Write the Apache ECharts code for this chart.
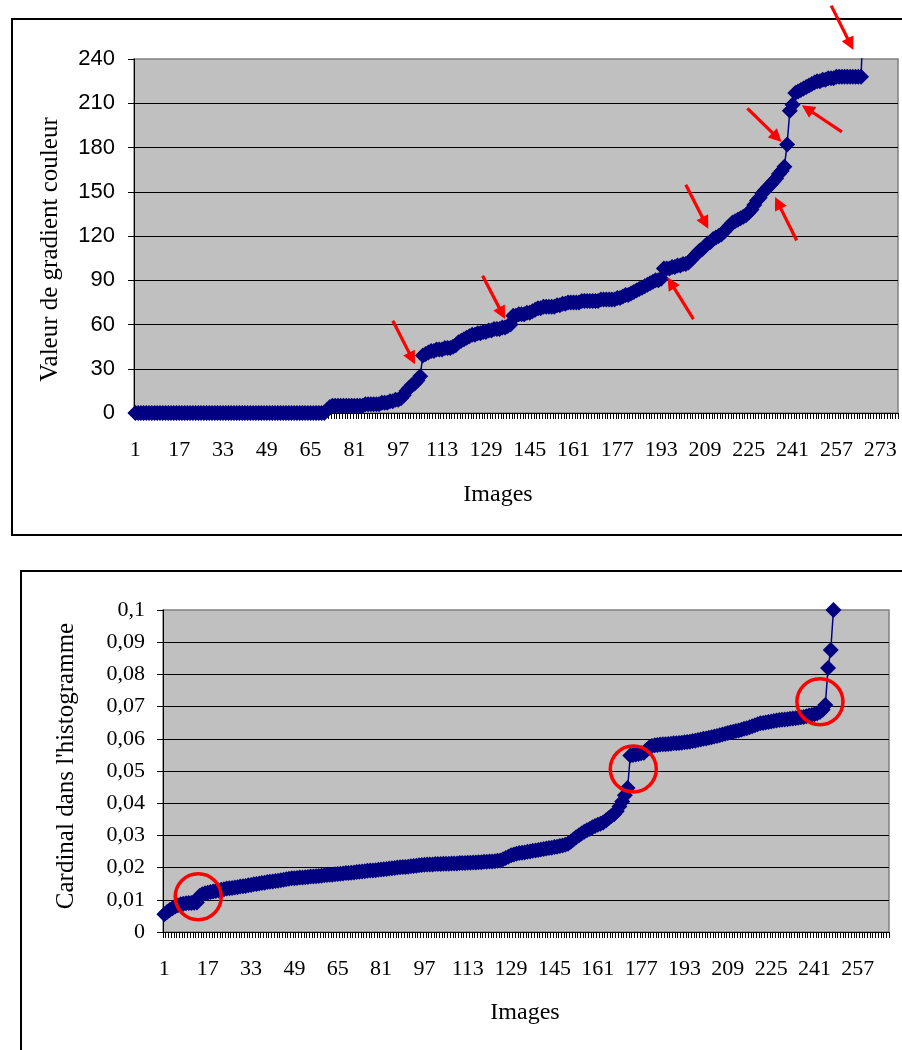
<!DOCTYPE html>
<html>
<head>
<meta charset="utf-8">
<script src="https://cdn.jsdelivr.net/npm/echarts@6.0.0/dist/echarts.min.js"></script>
<style>
html,body{margin:0;padding:0;background:#fff;}
#c{width:902px;height:1050px;}
</style>
</head>
<body>
<div id="c"></div>
<script>
// ---------------- Chart 1 : colour gradient value per image ----------------
const gradientCategoryCount = 279;
const gradientCategories = [];
for (let k = 1; k <= gradientCategoryCount; k++) gradientCategories.push(String(k));

const gradientValues = [
  0,0,0,0,0,0,0,0,0,0,
  0,0,0,0,0,0,0,0,0,0,
  0,0,0,0,0,0,0,0,0,0,
  0,0,0,0,0,0,0,0,0,0,
  0,0,0,0,0,0,0,0,0,0,
  0,0,0,0,0,0,0,0,0,0,
  0,0,0,0,0,0,0,0,0,0,
  2,4,5,5,5,5,5,5,5,5,5,5,5,5,6,6,6,6,
  6,6,7,7,7,8,8,9,9,10,12,15,17,19,20,22,25,
  39,40,41,42,42,43,43,43,44,44,44,45,46,48,49,50,51,52,53,53,54,54,55,55,56,56,57,57,57,58,58,59,60,
  66,66,67,67,67,68,68,69,70,71,
  71,72,72,72,72,72,73,73,74,74,
  75,75,75,75,75,76,76,76,76,76,
  76,76,77,77,77,77,77,77,78,78,
  79,80,80,81,82,83,84,85,86,87,
  88,89,90,90,91,
  98,98,98,99,99,100,100,101,101,102,
  104,106,108,110,111,113,115,116,118,119,
  120,121,123,125,127,129,130,131,132,133,
  134,136,138,141,144,146,149,151,153,155,
  157,159,162,164,167,
  182,205,209,217,218,219,220,221,222,223,
  224,225,225,226,226,227,227,227,228,228,
  228,228,228,228,228,228,228,228,
  275
];
const gradientTicks = [0, 30, 60, 90, 120, 150, 180, 210, 240];

// red arrows: [tail category index, tail value, tip category index, tip value]
const gradientArrows = [
  [94.0, 62.6, 102.1, 33.1],
  [126.8, 93.1, 135.0, 63.7],
  [203.8, 63.7, 194.3, 92.0],
  [201.0, 154.8, 209.2, 124.9],
  [241.5, 116.9, 233.6, 146.4],
  [223.5, 206.5, 236.0, 183.8],
  [258.0, 190.6, 243.4, 208.7],
  [254.1, 276.2, 262.2, 246.1]
];

// ---------------- Chart 2 : cardinal in the histogram per image ----------------
const cardinalCategoryCount = 268;
const cardinalCategories = [];
for (let k = 1; k <= cardinalCategoryCount; k++) cardinalCategories.push(String(k));

const cardinalValues = [
  0.0055,0.0062,0.0068,0.0074,0.0079,0.0083,0.0086,0.0088,0.0089,0.0090,0.0090,0.0091,0.0092,
  0.0112,0.0117,0.0120,0.0122,0.0124,0.0126,0.0127,0.0129,0.0131,0.0133,0.0135,
  0.0136,0.0137,0.0138,0.0139,0.0141,0.0142,0.0143,0.0145,0.0146,0.0148,0.0149,0.0151,
  0.0152,0.0153,0.0155,0.0156,0.0157,0.0158,0.0159,0.0161,0.0162,0.0164,0.0165,0.0167,
  0.0167,0.0168,0.0169,0.0169,0.0170,0.0171,0.0172,0.0172,0.0173,0.0174,0.0175,0.0176,0.0177,
  0.0178,0.0178,0.0179,0.0180,0.0181,0.0182,0.0183,0.0183,0.0184,0.0185,0.0186,0.0187,
  0.0188,0.0189,0.0190,0.0191,0.0191,0.0192,0.0193,0.0194,0.0195,0.0196,0.0197,0.0198,
  0.0199,0.0200,0.0201,0.0202,0.0202,0.0203,0.0204,0.0205,0.0206,0.0207,0.0208,0.0209,0.0210,
  0.0210,0.0210,0.0211,0.0211,0.0211,0.0212,0.0212,0.0212,0.0213,0.0213,0.0213,0.0214,0.0214,
  0.0214,0.0215,0.0215,0.0216,0.0216,0.0217,0.0217,0.0218,0.0218,0.0219,0.0219,0.0220,0.0221,
  0.0222,0.0226,0.0230,0.0234,0.0238,0.0241,0.0243,
  0.0245,0.0246,0.0247,0.0249,0.0250,0.0252,0.0253,0.0255,0.0256,0.0258,
  0.0259,0.0261,0.0262,0.0264,0.0265,0.0267,0.0269,0.0271,0.0274,
  0.0280,0.0287,0.0294,0.0300,0.0306,0.0311,0.0316,0.0320,0.0325,0.0329,0.0333,
  0.0336,0.0340,0.0346,0.0353,0.0360,0.0366,0.0375,0.0390,0.0405,0.0425,0.0447,
  0.0548,0.0550,0.0551,0.0553,0.0555,0.0557,
  0.0565,0.0573,0.0578,
  0.0580,0.0581,0.0582,0.0583,0.0583,0.0584,0.0585,0.0586,0.0586,
  0.0587,0.0588,0.0589,0.0590,0.0591,0.0593,0.0594,0.0596,0.0598,0.0600,
  0.0601,0.0603,0.0605,0.0607,0.0609,0.0611,0.0613,0.0616,
  0.0618,0.0620,0.0622,0.0624,0.0626,0.0628,0.0631,0.0633,0.0636,0.0639,0.0642,0.0645,0.0648,
  0.0649,0.0651,0.0652,0.0654,0.0655,0.0657,0.0658,0.0659,0.0660,0.0661,0.0662,0.0663,
  0.0664,0.0665,0.0667,0.0668,0.0670,0.0672,0.0674,0.0676,0.0679,0.0683,0.0690,0.0705,
  0.0820,0.0876,0.1000
];
const cardinalTickLabels = ['0','0,01','0,02','0,03','0,04','0,05','0,06','0,07','0,08','0,09','0,1'];

// red circles: [category index, value]
const cardinalCircles = [
  [12.5, 0.01096],
  [173.1, 0.0506],
  [242.0, 0.0715]
];

// ---------------- rendering ----------------
const SERIF = '"Liberation Serif", "Times New Roman", Times, serif';
const SANS = '"Liberation Sans", Arial, Helvetica, sans-serif';
const NAVY = '#000080';
const RED = '#FF0000';

const chart = echarts.init(document.getElementById('c'), null, {renderer: 'canvas', width: 902, height: 1050});

function catAxis(gridIndex, data, fontSize, margin) {
  return {
    gridIndex: gridIndex,
    type: 'category',
    data: data,
    boundaryGap: true,
    axisLine: {show: true, onZero: false, lineStyle: {color: '#000', width: 1}},
    axisTick: {show: true, interval: 0, alignWithLabel: false, inside: false, length: 6, lineStyle: {color: '#000', width: 1}},
    axisLabel: {show: true, interval: 15, margin: margin, fontFamily: SERIF, fontSize: fontSize, color: '#000', hideOverlap: false},
    splitLine: {show: false}
  };
}

const option = {
  animation: false,
  backgroundColor: '#fff',
  grid: [
    {left: 134, top: 59, width: 764, height: 354, show: true, backgroundColor: '#C0C0C0',
     borderColor: '#808080', borderWidth: 1.5, containLabel: false, outerBoundsMode: 'none'},
    {left: 163, top: 610, width: 726, height: 322, show: true, backgroundColor: '#C0C0C0',
     borderColor: '#808080', borderWidth: 1.5, containLabel: false, outerBoundsMode: 'none'}
  ],
  xAxis: [
    catAxis(0, gradientCategories, 22, 26),
    catAxis(1, cardinalCategories, 22, 26)
  ],
  yAxis: [
    {
      gridIndex: 0, type: 'value',
      min: gradientTicks[0], max: gradientTicks[gradientTicks.length - 1],
      interval: gradientTicks[1] - gradientTicks[0],
      axisLine: {show: true, onZero: false, lineStyle: {color: '#000', width: 1}},
      axisTick: {show: true, length: 6, lineStyle: {color: '#000', width: 1}},
      axisLabel: {show: true, margin: 19, fontFamily: SANS, fontSize: 22, color: '#000'},
      splitLine: {show: true, showMinLine: false, showMaxLine: false, lineStyle: {color: '#000', width: 1}}
    },
    {
      gridIndex: 1, type: 'value', min: 0, max: 0.1, interval: 0.01,
      axisLine: {show: true, onZero: false, lineStyle: {color: '#000', width: 1}},
      axisTick: {show: true, length: 6, lineStyle: {color: '#000', width: 1}},
      axisLabel: {
        show: true, margin: 18, fontFamily: SERIF, fontSize: 22, color: '#000',
        formatter: function (v) { return cardinalTickLabels[Math.round(v * 100)]; }
      },
      splitLine: {show: true, showMinLine: false, showMaxLine: false, lineStyle: {color: '#000', width: 1}}
    }
  ],
  series: [
    {
      type: 'line', xAxisIndex: 0, yAxisIndex: 0, data: gradientValues,
      symbol: 'diamond', symbolSize: 16, showAllSymbol: true, clip: true,
      itemStyle: {color: NAVY, borderWidth: 0},
      lineStyle: {color: NAVY, width: 1.5},
      emphasis: {disabled: true}, silent: true
    },
    {
      type: 'line', xAxisIndex: 1, yAxisIndex: 1, data: cardinalValues,
      symbol: 'diamond', symbolSize: 16, showAllSymbol: true, clip: true,
      itemStyle: {color: NAVY, borderWidth: 0},
      lineStyle: {color: NAVY, width: 1.5},
      emphasis: {disabled: true}, silent: true
    }
  ]
};
chart.setOption(option);

// convert a (possibly fractional) category index + value to pixels through the axes
function toPx(axisIdx, catIdx, value) {
  const k0 = Math.floor(catIdx);
  const p0 = chart.convertToPixel({xAxisIndex: axisIdx}, k0);
  const p1 = chart.convertToPixel({xAxisIndex: axisIdx}, k0 + 1);
  const x = p0 + (catIdx - k0) * (p1 - p0);
  const y = chart.convertToPixel({yAxisIndex: axisIdx}, value);
  return [x, y];
}

function arrowElements(a, b) {
  const dx = b[0] - a[0], dy = b[1] - a[1];
  const L = Math.hypot(dx, dy), ux = dx / L, uy = dy / L;
  const hl = 13, hw = 6.5;
  const bx = b[0] - ux * hl, by = b[1] - uy * hl;
  return [
    {type: 'line', silent: true, z: 100,
     shape: {x1: a[0], y1: a[1], x2: bx + ux * 2, y2: by + uy * 2},
     style: {stroke: RED, lineWidth: 3.2}},
    {type: 'polygon', silent: true, z: 100,
     shape: {points: [[b[0], b[1]], [bx - uy * hw, by + ux * hw], [bx + uy * hw, by - ux * hw]]},
     style: {fill: RED}}
  ];
}

const graphics = [
  {type: 'rect', silent: true, z: 50, shape: {x: 12, y: 19, width: 900, height: 516},
   style: {fill: 'none', stroke: '#000', lineWidth: 2}},
  {type: 'rect', silent: true, z: 50, shape: {x: 21, y: 571, width: 900, height: 500},
   style: {fill: 'none', stroke: '#000', lineWidth: 2}},
  {type: 'text', silent: true, x: 50.5, y: 249.5, rotation: Math.PI / 2,
   style: {text: 'Valeur de gradient couleur', fontFamily: SERIF, fontSize: 25, fill: '#000', align: 'center', verticalAlign: 'middle'}},
  {type: 'text', silent: true, x: 498, y: 495,
   style: {text: 'Images', fontFamily: SERIF, fontSize: 24, fill: '#000', align: 'center', verticalAlign: 'middle'}},
  {type: 'text', silent: true, x: 66, y: 766, rotation: Math.PI / 2,
   style: {text: "Cardinal dans l'histogramme", fontFamily: SERIF, fontSize: 25, fill: '#000', align: 'center', verticalAlign: 'middle'}},
  {type: 'text', silent: true, x: 525, y: 1013,
   style: {text: 'Images', fontFamily: SERIF, fontSize: 24, fill: '#000', align: 'center', verticalAlign: 'middle'}}
];

gradientArrows.forEach(function (ar) {
  const a = toPx(0, ar[0], ar[1]);
  const b = toPx(0, ar[2], ar[3]);
  arrowElements(a, b).forEach(function (g) { graphics.push(g); });
});

cardinalCircles.forEach(function (c) {
  const p = toPx(1, c[0], c[1]);
  graphics.push({type: 'circle', silent: true, z: 100, shape: {cx: p[0], cy: p[1], r: 23},
    style: {fill: 'none', stroke: RED, lineWidth: 3.5}});
});

chart.setOption({graphic: graphics});
</script>
</body>
</html>
